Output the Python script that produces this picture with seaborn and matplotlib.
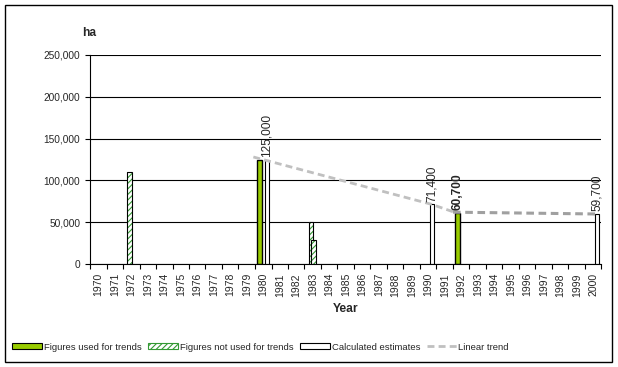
import numpy as np
import pandas as pd
import matplotlib
matplotlib.use("Agg")
import matplotlib.pyplot as plt
import seaborn as sns
from matplotlib.patches import Patch, Rectangle
from matplotlib.lines import Line2D
from matplotlib.ticker import FuncFormatter, FixedLocator

# =========================
# dados
# =========================
years = list(range(1970, 2001))

used_years = [1980, 1992]
used_vals = [125000, 60700]

notused_a_years = [1972, 1983]
notused_a_vals = [110000, 50000]

notused_b_years = [1983]
notused_b_vals = [28600]

calc_years = [1980, 1990, 2000]
calc_vals = [125000, 71400, 59700]

trend_light_x = [1979.4, 1990.2, 1991.5]
trend_light_y = [128000, 71400, 62500]
trend_dark_x = [1991.5, 2000.3]
trend_dark_y = [62000, 59800]

label_years = [1980, 1990, 1992, 2000]
label_vals = [125000, 71400, 60700, 59700]
label_text = ["125,000", "71,400", "60,700", "59,700"]
label_bold = [False, False, True, False]

# =========================
# estilo
# =========================
GREEN = "#99CC00"
HATCH_GREEN = "#339933"
LIGHT = "#C0C0C0"
DARK = "#A0A0A0"
BAR_W = 0.27
OFF = {"used": -0.227, "nota": -0.10, "notb": 0.045, "calc": 0.22}

sns.set_style("ticks")
plt.rcParams["font.family"] = ["Liberation Sans", "DejaVu Sans"]
plt.rcParams["hatch.linewidth"] = 0.8

fig = plt.figure(figsize=(6.18, 3.67), dpi=100)
ax = fig.add_axes([90 / 618, 1 - 264 / 367, 511.5 / 618, 209 / 367])

order = [str(y) for y in years]


def draw_series(ys, vals, offset, **kw):
    df = pd.DataFrame({"ano": [str(y) for y in ys], "valor": vals})
    n0 = len(ax.patches)
    sns.barplot(data=df, x="ano", y="valor", order=order, width=BAR_W,
                errorbar=None, ax=ax, **kw)
    for p in ax.patches[n0:]:
        p.set_x(p.get_x() + offset)


# barras
draw_series(used_years, used_vals, OFF["used"], color=GREEN,
            edgecolor="black", linewidth=1.0, saturation=1)
for ys, vals, key in [(notused_a_years, notused_a_vals, "nota"),
                      (notused_b_years, notused_b_vals, "notb")]:
    draw_series(ys, vals, OFF[key], color="white", edgecolor=HATCH_GREEN,
                hatch="//////", linewidth=0, saturation=1)
    draw_series(ys, vals, OFF[key], fill=False, edgecolor="black",
                linewidth=0.8)
draw_series(calc_years, calc_vals, OFF["calc"], color="white",
            edgecolor="black", linewidth=0.8, saturation=1)

# linha de tendência
sns.lineplot(x=np.array(trend_light_x) - 1970, y=trend_light_y, ax=ax,
             color=LIGHT, linewidth=2, linestyle=(0, (2.5, 1.5)), sort=False)
sns.lineplot(x=np.array(trend_dark_x) - 1970, y=trend_dark_y, ax=ax,
             color=DARK, linewidth=2.2, linestyle=(0, (2.5, 1.5)), sort=False)

# rótulos
for yr, v, t, b in zip(label_years, label_vals, label_text, label_bold):
    off = OFF["used"] if b else OFF["calc"]
    ax.annotate(t, (yr - 1970 + off, v), xytext=(0, 2),
                textcoords="offset points", rotation=90, ha="center",
                va="bottom", fontsize=8.6,
                fontweight="bold" if b else "normal")

# eixos
ax.set_xlim(-0.5, len(years) - 0.5)
ax.set_ylim(0, 250000)
ax.set_yticks(range(0, 250001, 50000))
ax.yaxis.set_major_formatter(FuncFormatter(lambda v, p: f"{int(v):,}"))
ax.grid(axis="y", color="black", linewidth=0.8)
ax.set_axisbelow(True)
ax.set_xticks(range(len(years)))
ax.set_xticklabels(order, rotation=90, fontsize=7.5)
ax.xaxis.set_minor_locator(FixedLocator(np.arange(-0.5, len(years), 1)))
ax.tick_params(axis="x", which="major", length=0, pad=6.5)
ax.tick_params(axis="x", which="minor", length=3.5, width=0.8, color="black")
ax.tick_params(axis="y", length=3.5, width=0.8, color="black", pad=3.5,
               labelsize=7.3)
for s in ["top", "right"]:
    ax.spines[s].set_visible(False)
for s in ["left", "bottom"]:
    ax.spines[s].set_color("black")
    ax.spines[s].set_linewidth(0.8)
ax.set_xlabel("Year", fontsize=8.7, fontweight="bold", labelpad=5)
ax.set_ylabel("")

fig.text(82 / 618, 1 - 32.5 / 367, "ha", fontsize=8.7, fontweight="bold",
         va="center", ha="left")

# legenda
handles = [
    Patch(facecolor=GREEN, edgecolor="black", linewidth=0.8),
    Patch(facecolor="white", edgecolor=HATCH_GREEN, hatch="//////",
          linewidth=0.8),
    Patch(facecolor="white", edgecolor="black", linewidth=0.8),
    Line2D([], [], color=LIGHT, linewidth=2, linestyle=(0, (2.5, 1.5))),
]
labels = ["Figures used for trends", "Figures not used for trends",
          "Calculated estimates", "Linear trend"]
fig.legend(handles, labels, loc="center left",
           bbox_to_anchor=(12 / 618, 1 - 347 / 367), ncol=4, frameon=False,
           fontsize=6.8, handlelength=3.2, handleheight=0.55,
           handletextpad=0.15, columnspacing=0.7, borderpad=0,
           borderaxespad=0)

fig.add_artist(Rectangle((5 / 618, 5 / 367), 607 / 618, 357 / 367,
                         transform=fig.transFigure, fill=False,
                         edgecolor="black", linewidth=1))

fig.savefig("out.png", dpi=100)
